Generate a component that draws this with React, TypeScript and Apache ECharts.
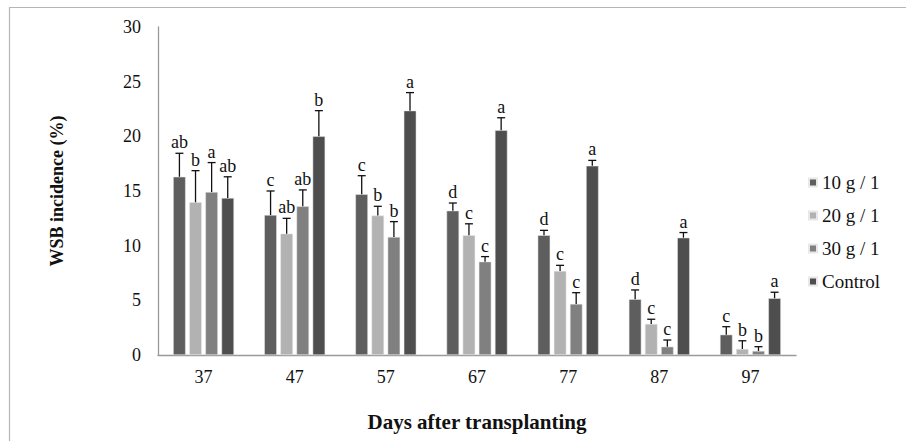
import React, { useEffect, useRef } from "react";
import * as echarts from "echarts";

const categories = ["37", "47", "57", "67", "77", "87", "97"];
const seriesNames = ["10 g / 1", "20 g / 1", "30 g / 1", "Control"];
const v10 = [16.3, 12.8, 14.7, 13.2, 10.95, 5.1, 1.86];
const v20 = [13.97, 11.1, 12.75, 10.95, 7.69, 2.84, 0.55];
const v30 = [14.9, 13.6, 10.8, 8.54, 4.67, 0.76, 0.37];
const vCtl = [14.36, 20.0, 22.35, 20.55, 17.3, 10.73, 5.19];
const e10 = [18.45, 15.0, 16.4, 13.9, 11.4, 5.95, 2.59];
const e20 = [16.86, 12.5, 13.6, 12.0, 8.2, 3.27, 1.3];
const e30 = [17.6, 15.1, 12.2, 9.0, 5.7, 1.37, 0.76];
const eCtl = [16.3, 22.35, 24.0, 21.7, 17.8, 11.2, 5.74];
const l10 = ["ab", "c", "c", "d", "d", "d", "c"];
const l20 = ["b", "ab", "b", "c", "c", "c", "b"];
const l30 = ["a", "ab", "b", "c", "c", "c", "b"];
const lCtl = ["ab", "b", "a", "a", "a", "a", "a"];
const colors = ["#5e5e5e", "#b2b2b2", "#808080", "#4e4e4e"];

const FONT = "Liberation Serif";

export default function App() {
  const ref = useRef<HTMLDivElement>(null);
  useEffect(() => {
    if (!ref.current) return;
    const chart = echarts.init(ref.current, null, { renderer: "svg" });
    const values = [v10, v20, v30, vCtl];
    const errs = [e10, e20, e30, eCtl];
    const labels = [l10, l20, l30, lCtl];
    const barWidth = 12.5;
    const step = 16.1;

    const barSeries = values.map((vals, i) => ({
      type: "bar",
      name: seriesNames[i],
      data: vals,
      barWidth,
      barGap: "29%",
      itemStyle: { color: colors[i], borderColor: "#e8e8e8", borderWidth: 0.5 },
      z: 2,
    }));

    const errSeries = values.map((vals, i) => ({
      type: "custom",
      name: "err" + i,
      data: vals.map((v, j) => [j, v, errs[i][j]]),
      z: 5,
      silent: true,
      renderItem: (params: any, api: any) => {
        const idx = api.value(0);
        const v = api.value(1);
        const t = api.value(2);
        const base = api.coord([idx, v]);
        const top = api.coord([idx, t]);
        const x = base[0] + (i - 1.5) * step;
        const lab = labels[i][params.dataIndex];
        return {
          type: "group",
          children: [
            { type: "line", shape: { x1: x, y1: base[1], x2: x, y2: top[1] }, style: { stroke: "#111", lineWidth: 1.3 } },
            { type: "line", shape: { x1: x - 4, y1: top[1], x2: x + 4, y2: top[1] }, style: { stroke: "#111", lineWidth: 1.3 } },
            {
              type: "text",
              x: x,
              y: top[1] - 2,
              style: { text: lab, fill: "#111", fontFamily: FONT, fontSize: 18, align: "center", verticalAlign: "bottom" },
            },
          ],
        };
      },
    }));

    chart.setOption({
      animation: false,
      backgroundColor: "#ffffff",
      textStyle: { fontFamily: FONT },
      graphic: [
        {
          type: "rect",
          shape: { x: 9.5, y: 7.5, width: 1000, height: 1000 },
          style: { fill: "none", stroke: "#b5b5b5", lineWidth: 1.2 },
          silent: true,
        },
      ],
      legend: {
        data: seriesNames,
        orient: "vertical",
        left: 803,
        top: 168,
        itemWidth: 8,
        itemHeight: 8,
        itemGap: 14,
        icon: "rect",
        textStyle: { fontFamily: FONT, fontSize: 19, color: "#111" },
      },
      grid: { left: 158, right: 110, top: 27, bottom: 86, containLabel: false, outerBoundsMode: "none" },
      xAxis: {
        type: "category",
        data: categories,
        name: "Days after transplanting",
        nameLocation: "middle",
        nameGap: 56,
        nameTextStyle: { fontFamily: FONT, fontSize: 21, fontWeight: "bold", color: "#111" },
        axisLine: { lineStyle: { color: "#9a9a9a", width: 1.3 } },
        axisTick: { show: false },
        axisLabel: { fontFamily: FONT, fontSize: 18, color: "#111", margin: 13 },
      },
      yAxis: {
        type: "value",
        min: 0,
        max: 30,
        interval: 5,
        name: "WSB incidence (%)",
        nameLocation: "middle",
        nameGap: 92,
        nameTextStyle: { fontFamily: FONT, fontSize: 18, fontWeight: "bold", color: "#111" },
        axisLine: { show: true, lineStyle: { color: "#9a9a9a", width: 1.3 } },
        axisTick: { show: false },
        splitLine: { show: false },
        axisLabel: { fontFamily: FONT, fontSize: 18, color: "#111", margin: 17 },
      },
      series: [...barSeries, ...errSeries],
    });
    return () => chart.dispose();
  }, []);
  return <div ref={ref} style={{ position: "fixed", left: 0, top: 0, width: 906, height: 441 }} />;
}
